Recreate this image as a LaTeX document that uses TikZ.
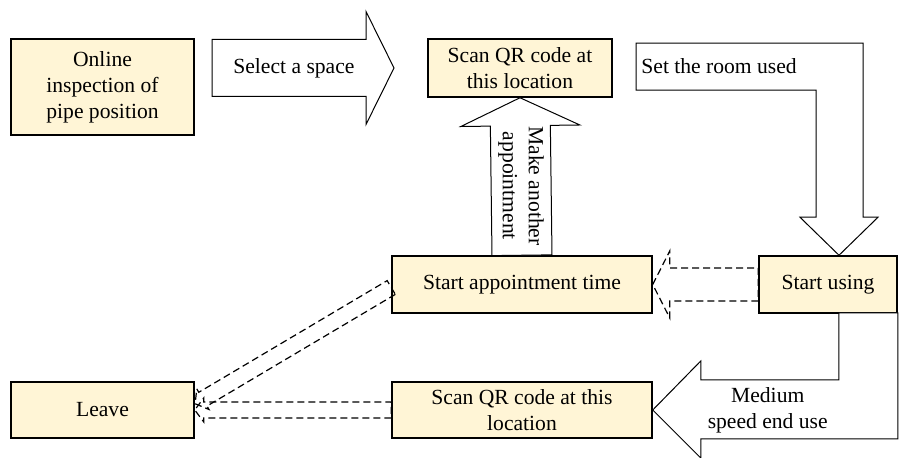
\documentclass[tikz,border=0pt]{standalone}
\usepackage{fontspec}
\setmainfont{Liberation Serif}
\usetikzlibrary{calc}
\definecolor{boxfill}{RGB}{255,245,214}

% straight block arrow: [style]{from}{to}{body half}{head half}{head length}
\newcommand{\blockarrow}[6][]{%
	\draw[#1] let \p1=(#2), \p2=(#3),
		\n1={atan2(\y2-\y1,\x2-\x1)}, \n2={veclen(\x2-\x1,\y2-\y1)} in
		[shift={(\p1)}, rotate=\n1]
		(0pt,{#4*0.5pt}) -- ({\n2*1pt-#6*0.5pt},{#4*0.5pt}) -- ({\n2*1pt-#6*0.5pt},{#5*0.5pt})
		-- ({\n2*1pt},0pt) -- ({\n2*1pt-#6*0.5pt},{-#5*0.5pt}) -- ({\n2*1pt-#6*0.5pt},{-#4*0.5pt})
		-- (0pt,{-#4*0.5pt}) -- cycle;}

\begin{document}
\begin{tikzpicture}[x=0.5pt,y=-0.5pt]
		\tikzset{box/.style = {draw, line width=0.75pt, fill=boxfill, align=center, inner sep=0pt, font=\fontsize{10.8}{13}\selectfont}}
		\tikzset{bigarrow/.style = {draw, line width=0.5pt, fill=white}}
		\tikzset{dasharrow/.style = {draw, line width=0.6pt, dash pattern=on 3.5pt off 2pt}}
		\tikzset{lbl/.style = {align=center, inner sep=0pt, font=\fontsize{10.8}{13}\selectfont}}
		\useasboundingbox (0,0) rectangle (907,458);
		\node[box, minimum width=91.5pt, minimum height=48pt] (online) at (102.5,87) {Online\\inspection of\\pipe position};
		\node[box, minimum width=92pt, minimum height=29pt] (scantop) at (520,68) {Scan QR code at\\this location};
		\node[box, minimum width=130pt, minimum height=28.5pt] (appt) at (522,284.5) {Start appointment time};
		\node[box, minimum width=69pt, minimum height=28.5pt] (using) at (828,284.5) {Start using};
		\node[box, minimum width=130pt, minimum height=28pt] (scanbot) at (522,410) {Scan QR code at this\\location};
		\node[box, minimum width=91.5pt, minimum height=28pt] (leave) at (102.5,410) {Leave};
		% select a space
		\coordinate (selS) at (212,68);
		\coordinate (selT) at (394,68);
		\blockarrow[bigarrow]{selS}{selT}{28.5}{56.5}{28}
		\node[lbl] at ($(selS)!0.45!(selT)$) {Select a space};
		% make another appointment
		\blockarrow[bigarrow]{appt.north}{scantop.south}{30}{59.5}{28}
		\node[lbl, rotate=-90] at ($(appt.north)!0.44!(scantop.south)$) {Make another\\appointment};
		% set the room used
		\coordinate (roomT) at ($(using.north)+(11,0)$);
		\draw[bigarrow] (roomT) -- ++(39,-38) -- ++(-15,0) -- ++(0,-174) -- ++(-227,0) -- ++(0,47)
			-- ++(180,0) -- ++(0,127) -- ++(-16,0) -- cycle;
		\node[lbl, anchor=west] at ($(roomT)+(-198,-189)$) {Set the room used};
		% medium speed end use
		\draw[bigarrow] (scanbot.east) -- ++(48,-49) -- ++(0,19) -- ++(138,0) -- ++(0,-67) -- ++(59,0)
			-- ++(0,126) -- ++(-197,0) -- ++(0,19) -- cycle;
		\node[lbl] at ($(scanbot.east)+(115,0)$) {Medium\\speed end use};
		% dashed arrows
		\coordinate (leaveup) at ($(leave.east)+(0,-6)$);
		\coordinate (apptw) at ($(appt.west)+(0,3)$);
		\blockarrow[dasharrow]{using.west}{appt.east}{16.5}{33.5}{17}
		\blockarrow[dasharrow]{apptw}{leaveup}{8}{12}{9}
		\blockarrow[dasharrow]{scanbot.west}{leave.east}{8}{12}{9}
	\end{tikzpicture}
\end{document}
